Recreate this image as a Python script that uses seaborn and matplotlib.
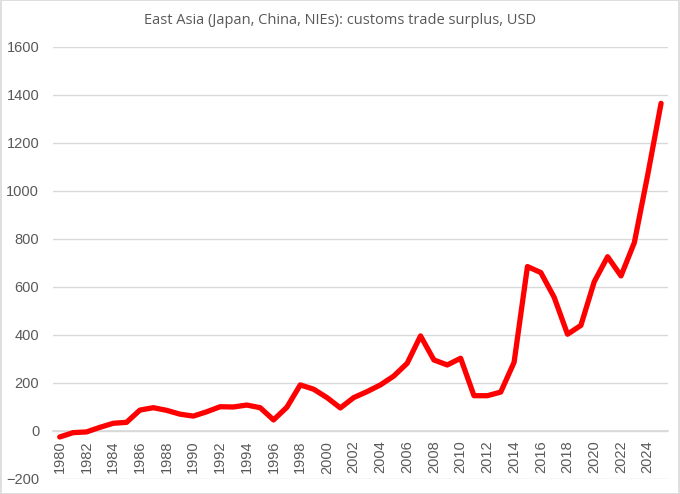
import matplotlib
matplotlib.use("Agg")
import matplotlib.pyplot as plt
import seaborn as sns
import pandas as pd
from matplotlib.patches import Rectangle

years = list(range(1980, 2026))
surplus = [-25, -7, -4, 15, 32, 36, 87, 97, 86, 70, 62, 80, 101, 100, 108, 97,
           46, 99, 192, 174, 139, 96, 139, 164, 192, 229, 282, 396, 296, 275,
           303, 147, 147, 162, 286, 685, 660, 557, 403, 440, 622, 726, 646, 785,
           1067, 1365]
yticks = [-200, 0, 200, 400, 600, 800, 1000, 1200, 1400, 1600]
xticks = list(range(1980, 2025, 2))
title = "East Asia (Japan, China, NIEs): customs trade surplus, USD"

df = pd.DataFrame({"year": years, "surplus": surplus})

sns.set_theme(style="white")
plt.rcParams['font.family'] = ['Liberation Sans', 'DejaVu Sans']

fig = plt.figure(figsize=(6.8, 4.94), dpi=100)
ax = fig.add_axes([0.078, 0.0304, 0.904, 0.8746])

sns.lineplot(data=df, x="year", y="surplus", color="#FF0000", linewidth=3.8,
             ax=ax, solid_capstyle="round", solid_joinstyle="round")

ax.set_xlim(1979.5, 2025.5)
ax.set_ylim(-200, 1600)
ax.set_yticks(yticks)
ax.set_xticks(xticks)
ax.set_xticklabels([str(x) for x in xticks])
ax.tick_params(axis="x", labelrotation=90)
ax.yaxis.grid(True, color="#D9D9D9", linewidth=1.0)
ax.set_axisbelow(True)
for s in ["top", "right", "left"]:
    ax.spines[s].set_visible(False)
ax.spines["bottom"].set_position(("data", 0))
ax.spines["bottom"].set_color("#D9D9D9")
ax.spines["bottom"].set_zorder(0.5)
ax.tick_params(axis="x", length=0, pad=7, labelsize=10.5, labelcolor="#595959")
ax.tick_params(axis="y", length=0, pad=10, labelsize=10.5, labelcolor="#595959")
ax.set_xlabel("")
ax.set_ylabel("")

fig.text(0.5, 0.958, title, ha="center", va="center", fontsize=10.5, color="#595959",
         family=['Open Sans', 'DejaVu Sans'])
fig.patches.append(Rectangle((0.001, 0.001), 0.998, 0.998, transform=fig.transFigure,
                             fill=False, edgecolor="#D9D9D9", linewidth=1.2))

fig.savefig("out.png", dpi=100)
